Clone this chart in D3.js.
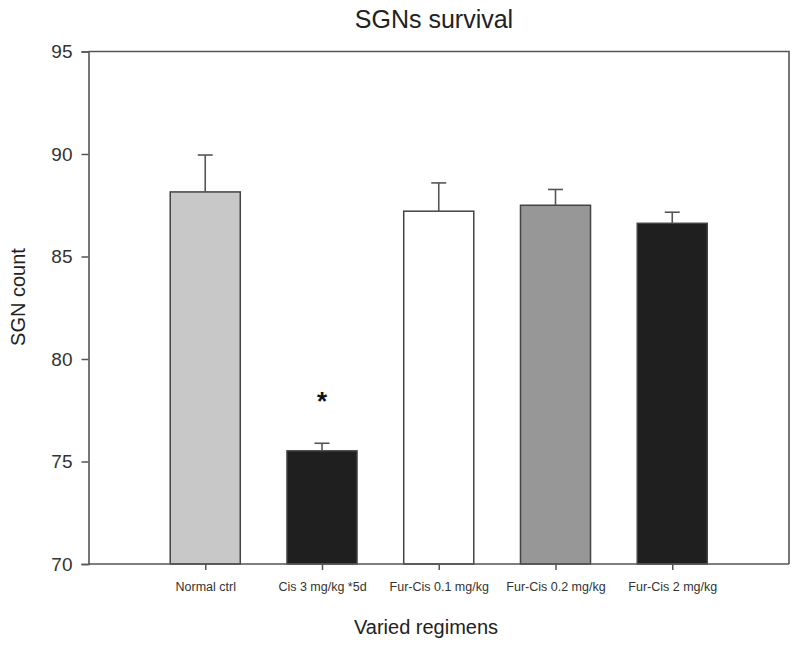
<!DOCTYPE html>
<html>
<head>
<meta charset="utf-8">
<script src="https://cdn.jsdelivr.net/npm/d3@7"></script>
<style>
  html, body { margin: 0; padding: 0; background: #fff; }
  svg { display: block; font-family: "Liberation Sans", Arial, sans-serif; }
</style>
</head>
<body>
<svg id="chart" width="800" height="650"></svg>
<script>
const categories = ["Normal ctrl", "Cis 3 mg/kg *5d", "Fur-Cis 0.1 mg/kg", "Fur-Cis 0.2 mg/kg", "Fur-Cis 2 mg/kg"];
const means = [88.15, 75.52, 87.21, 87.50, 86.62];
const errors = [1.80, 0.37, 1.38, 0.77, 0.54];
const fills = ["#c8c8c8", "#1f1f1f", "#ffffff", "#979797", "#1f1f1f"];
const yTicks = [70, 75, 80, 85, 90, 95];
const significance = [{ category: "Cis 3 mg/kg *5d", y: 78.2, label: "*" }];

const svg = d3.select("#chart");
const mLeft = 88.5, mRight = 789, mTop = 51.5, mBottom = 564;

const x = d3.scalePoint().domain(categories).range([mLeft, mRight]).padding(1);
const y = d3.scaleLinear().domain([70, 95]).range([mBottom, mTop]);
const barW = x.step() * 0.6;

const axisColor = "#555";

// frame (top and right)
svg.append("path")
  .attr("d", `M${mLeft},${mTop}H${mRight}V${mBottom}`)
  .attr("fill", "none").attr("stroke", axisColor).attr("stroke-width", 1.6);

// bars
svg.append("g").selectAll("rect").data(categories).join("rect")
  .attr("x", d => x(d) - barW / 2)
  .attr("y", (d, i) => y(means[i]))
  .attr("width", barW)
  .attr("height", (d, i) => y(70) - y(means[i]))
  .attr("fill", (d, i) => fills[i])
  .attr("stroke", "#444").attr("stroke-width", 1.5);

// error bars (upper only)
const eg = svg.append("g").attr("stroke", "#555").attr("stroke-width", 1.6);
categories.forEach((c, i) => {
  eg.append("line").attr("x1", x(c)).attr("x2", x(c))
    .attr("y1", y(means[i])).attr("y2", y(means[i] + errors[i]));
  eg.append("line").attr("x1", x(c) - 7.5).attr("x2", x(c) + 7.5)
    .attr("y1", y(means[i] + errors[i])).attr("y2", y(means[i] + errors[i]));
});

// y axis
const yAxis = svg.append("g").attr("transform", `translate(${mLeft},0)`)
  .call(d3.axisLeft(y).tickValues(yTicks).tickSize(7).tickPadding(9).tickFormat(d3.format("d")));
yAxis.select(".domain").attr("stroke", axisColor).attr("stroke-width", 1.6);
yAxis.selectAll(".tick line").attr("stroke", axisColor).attr("stroke-width", 1.5);
yAxis.selectAll(".tick text").attr("font-size", 19).attr("fill", "#333")
  .attr("font-family", "Liberation Sans, Arial, sans-serif");

// x axis
const xAxis = svg.append("g").attr("transform", `translate(0,${mBottom})`)
  .call(d3.axisBottom(x).tickSize(6).tickPadding(12).tickSizeOuter(0));
xAxis.select(".domain").attr("d", `M${mLeft},0H${mRight}`).attr("stroke", axisColor).attr("stroke-width", 1.6);
xAxis.selectAll(".tick line").attr("stroke", axisColor).attr("stroke-width", 1.5);
xAxis.selectAll(".tick text").attr("font-size", 12.5).attr("fill", "#333")
  .attr("font-family", "Liberation Sans, Arial, sans-serif");

// significance marker
svg.append("g").selectAll("text").data(significance).join("text")
  .attr("x", d => x(d.category))
  .attr("y", d => y(d.y) + 14)
  .attr("text-anchor", "middle")
  .attr("font-size", 26).attr("font-weight", "bold").attr("fill", "#111")
  .text(d => d.label);

// titles
svg.append("text").attr("x", 434).attr("y", 28).attr("text-anchor", "middle")
  .attr("font-size", 25).attr("fill", "#222").text("SGNs survival");
svg.append("text").attr("x", 426).attr("y", 634).attr("text-anchor", "middle")
  .attr("font-size", 20).attr("fill", "#222").text("Varied regimens");
svg.append("text").attr("transform", "translate(25,297) rotate(-90)").attr("text-anchor", "middle")
  .attr("font-size", 20).attr("fill", "#222").text("SGN count");
</script>
</body>
</html>
